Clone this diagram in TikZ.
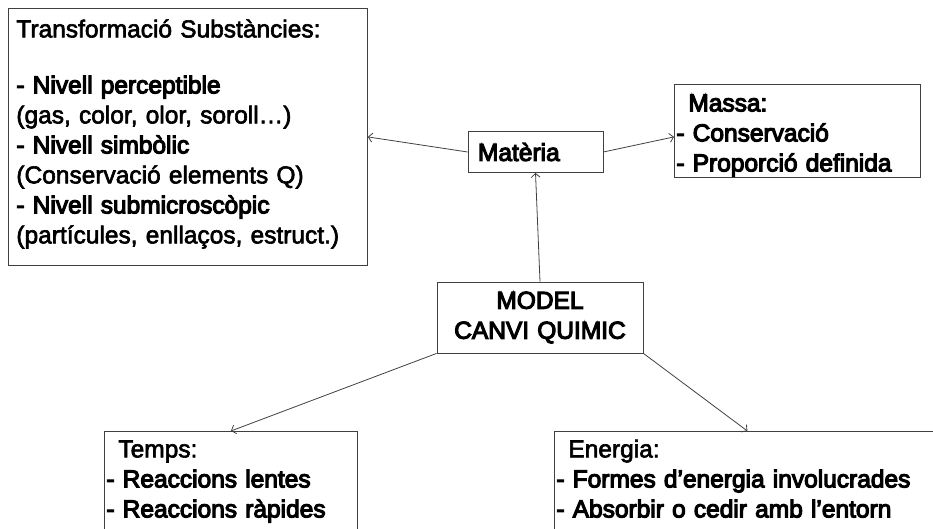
\documentclass[tikz,border=0pt]{standalone}
\usepackage{fontspec}
\setmainfont{Liberation Sans}
\newfontfamily\heavyfont{Liberation Sans}[FakeBold=4.5]
\newfontfamily\mediumfont{Liberation Sans}[FakeBold=2.5]
\usetikzlibrary{arrows.meta, positioning}

\tikzset{
  box/.style={rectangle, draw=black!75, line width=0.8pt, anchor=north west, align=left,
    font=\fontsize{24.5}{30}\selectfont\mediumfont, inner xsep=2pt, inner ysep=6pt},
  link/.style={draw=black!75, line width=0.8pt, -{Straight Barb[length=4pt,width=9pt]}}
}

\begin{document}
\begin{tikzpicture}[x=1pt, y=-1pt]
  \useasboundingbox (0,0) rectangle (933,529);
  \clip (0,0) rectangle (933,529);

  \node[box, text width=343pt, inner xsep=8pt, text height=23pt, text depth=222pt] (Trans) at (8,8)
    {Transformació Substàncies:\\[26pt]
     {\heavyfont - Nivell perceptible}\\
     (gas, color, olor, soroll…)\\
     {\heavyfont - Nivell simbòlic}\\
     (Conservació elements Q)\\
     {\heavyfont - Nivell submicroscòpic}\\
     (partícules, enllaços, estruct.)};
  \node[box, anchor=center, text width=115pt, inner xsep=10pt, minimum height=41pt] (Mat) at (535.5,152)
    {\heavyfont Matèria};
  \node[box, text width=242pt, text height=21pt, text depth=60pt] (Massa) at (674,84)
    {\hspace*{12pt}{\heavyfont Massa:}\\
     {\heavyfont - Conservació}\\
     {\heavyfont - Proporció definida}};
  \node[box, anchor=center, align=center, text width=200pt, inner xsep=3pt, minimum height=71pt] (Model) at (540,317.5)
    {\heavyfont MODEL\\ CANVI QUIMIC};
  % caixes de baix: la vora inferior queda fora del marc
  \node[box, text width=249pt, text height=20pt, text depth=100pt] (Temps) at (104,431)
    {\hspace*{12pt}Temps:\\
     {\heavyfont - Reaccions lentes}\\
     {\heavyfont - Reaccions ràpides}};
  \node[box, text width=382pt, text height=20pt, text depth=100pt] (Energia) at (554,431)
    {\hspace*{12pt}Energia:\\
     {\heavyfont - Formes d’energia involucrades}\\
     {\heavyfont - Absorbir o cedir amb l’entorn}};

  \draw[link] (Mat.west) -- (Trans.east);
  \draw[link] (Mat.east) -- ([yshift=-6pt]Massa.west);
  \draw[link] (Model.north) -- (Mat.south);
  \draw[link] (Model.south west) -- (Temps.north);
  \draw[link] (Model.south east) -- (Energia.north);
\end{tikzpicture}
\end{document}
